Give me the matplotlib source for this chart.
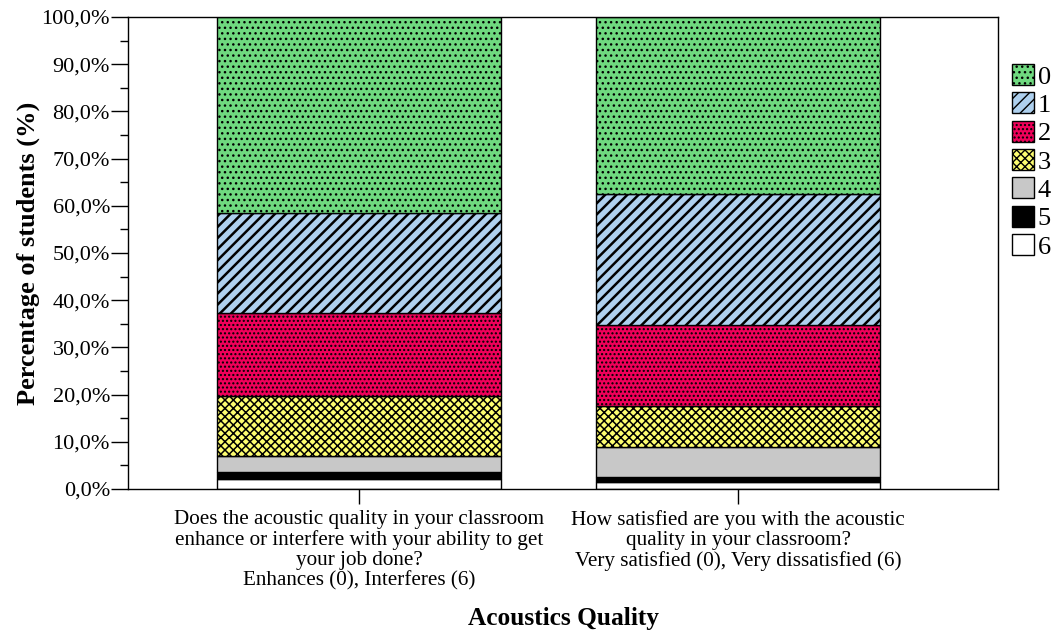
import matplotlib
matplotlib.use("Agg")
import matplotlib.pyplot as plt
from matplotlib.patches import Patch
from matplotlib.ticker import FuncFormatter, MultipleLocator

plt.rcParams["font.family"] = ["Liberation Serif", "DejaVu Serif"]

questions = [
    "Does the acoustic quality in your classroom\nenhance or interfere with your ability to get\nyour job done?\nEnhances (0), Interferes (6)",
    "How satisfied are you with the acoustic\nquality in your classroom?\nVery satisfied (0), Very dissatisfied (6)",
]
levels = ["0", "1", "2", "3", "4", "5", "6"]
# percentage of students answering each level, per question
pct = {
    "0": [41.5, 37.4],
    "1": [21.2, 27.9],
    "2": [17.6, 17.1],
    "3": [12.7, 8.8],
    "4": [3.3, 6.3],
    "5": [1.6, 1.0],
    "6": [2.1, 1.5],
}
colors = {
    "0": "#6fd97f", "1": "#aed0ee", "2": "#f0005a", "3": "#fdfd70",
    "4": "#c8c8c8", "5": "#000000", "6": "#ffffff",
}
hatches = {
    "0": "...", "1": "///", "2": "....", "3": "xxxx",
    "4": None, "5": None, "6": None,
}
hatch_lw = {"0": 1.0, "1": 1.8, "2": 1.0, "3": 1.1, "4": 1.0, "5": 1.0, "6": 1.0}

fig = plt.figure(figsize=(10.53, 6.30), dpi=100)
ax = fig.add_axes([128 / 1053, 1 - 489 / 630, 870 / 1053, 472 / 630])

x = [0, 1]
bottoms = [0.0, 0.0]
# stack from level 6 at the bottom up to level 0 at the top
for lv in reversed(levels):
    with plt.rc_context({"hatch.linewidth": hatch_lw[lv]}):
        ax.bar(x, pct[lv], width=0.75, bottom=bottoms, color=colors[lv],
               hatch=hatches[lv], edgecolor="black", linewidth=1.0, zorder=2)
    bottoms = [b + v for b, v in zip(bottoms, pct[lv])]

ax.set_xlim(-0.61, 1.686)
ax.set_ylim(0, 100)
ax.yaxis.set_major_locator(MultipleLocator(10))
ax.yaxis.set_minor_locator(MultipleLocator(5))
ax.yaxis.set_major_formatter(FuncFormatter(lambda v, p: f"{v:.1f}%".replace(".", ",")))
ax.tick_params(axis="y", which="major", length=12, width=1, labelsize=16, pad=1)
ax.tick_params(axis="y", which="minor", length=6, width=1)
ax.set_xticks(x)
ax.set_xticklabels(questions, fontsize=15.2, linespacing=1.07)
ax.tick_params(axis="x", length=11, width=1, pad=4)
for s in ax.spines.values():
    s.set_linewidth(1.0)

ax.set_ylabel("Percentage of students (%)", fontsize=19, fontweight="bold", labelpad=1)
ax.set_xlabel("Acoustics Quality", fontsize=18.3, fontweight="bold", labelpad=12)

handles = []
for lv in levels:
    with plt.rc_context({"hatch.linewidth": hatch_lw[lv]}):
        handles.append(Patch(facecolor=colors[lv], hatch=hatches[lv],
                             edgecolor="black", linewidth=1.0))
fig.legend(handles, levels, loc="upper left",
           bbox_to_anchor=(1012 / 1053, 1 - 64 / 630), frameon=False,
           fontsize=19, handlelength=0.85, handleheight=0.85,
           handletextpad=0.12, labelspacing=0.14, borderpad=0, borderaxespad=0)

fig.savefig("out.png", dpi=100)
